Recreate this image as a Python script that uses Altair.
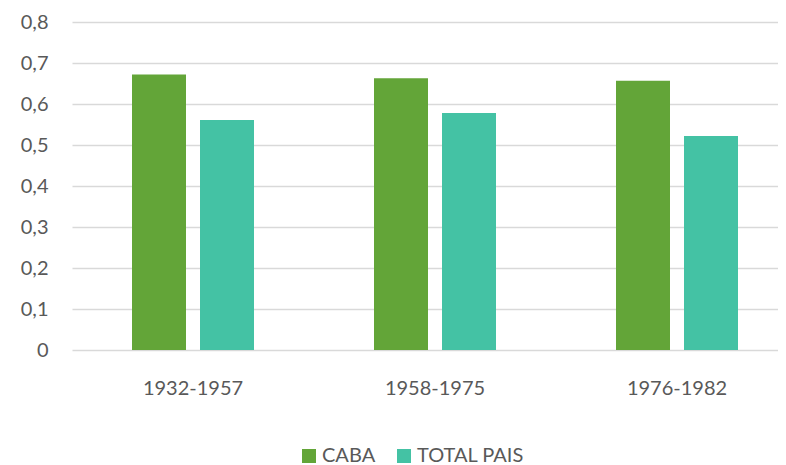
import altair as alt
import pandas as pd

periods = ["1932-1957", "1958-1975", "1976-1982"]
series = ["CABA", "TOTAL PAIS"]
caba = [0.672, 0.663, 0.657]
total = [0.561, 0.578, 0.522]
colors = ["#63A538", "#44C2A4"]
y_ticks = [0, 0.1, 0.2, 0.3, 0.4, 0.5, 0.6, 0.7, 0.8]

rows = []
for p, c, t in zip(periods, caba, total):
    rows.append({"periodo": p, "serie": series[0], "valor": c})
    rows.append({"periodo": p, "serie": series[1], "valor": t})
df = pd.DataFrame(rows)

font = "Lato"
txt = "#595959"

chart = alt.Chart(df).mark_bar().encode(
    x=alt.X(
        "periodo:N", sort=periods, title=None,
        scale=alt.Scale(range=[0, 726], paddingInner=0, paddingOuter=0),
        axis=alt.Axis(labelAngle=0, domain=False, ticks=False, labelPadding=28,
                      labelFontSize=20, labelColor=txt, labelFont=font),
    ),
    xOffset=alt.XOffset(
        "serie:N", sort=series,
        scale=alt.Scale(paddingInner=0.2059, paddingOuter=0.8824),
    ),
    y=alt.Y(
        "valor:Q", title=None,
        scale=alt.Scale(domain=[0, 0.8], nice=False),
        axis=alt.Axis(
            values=y_ticks,
            labelExpr="datum.value == 0 ? '0' : replace(format(datum.value, '.1f'), '.', ',')",
            domain=False, ticks=False, gridColor="#D9D9D9", gridWidth=1.3,
            labelPadding=24, labelFontSize=20, labelColor=txt, labelFont=font,
        ),
    ),
    color=alt.Color(
        "serie:N", sort=series,
        scale=alt.Scale(domain=series, range=colors),
        legend=alt.Legend(
            orient="none", legendX=227, legendY=424, direction="horizontal",
            title=None, symbolType="square", symbolSize=196, symbolStrokeWidth=0,
            labelFontSize=20, labelFont=font, labelColor=txt,
            columnPadding=18, labelOffset=3, padding=0,
        ),
    ),
).properties(
    width=706, height=328,
    padding={"left": 64, "top": 14, "right": 0, "bottom": 115},
    autosize="none",
).configure_view(stroke=None)

chart.save("out.html", embed_options={"renderer": "svg", "actions": False})
